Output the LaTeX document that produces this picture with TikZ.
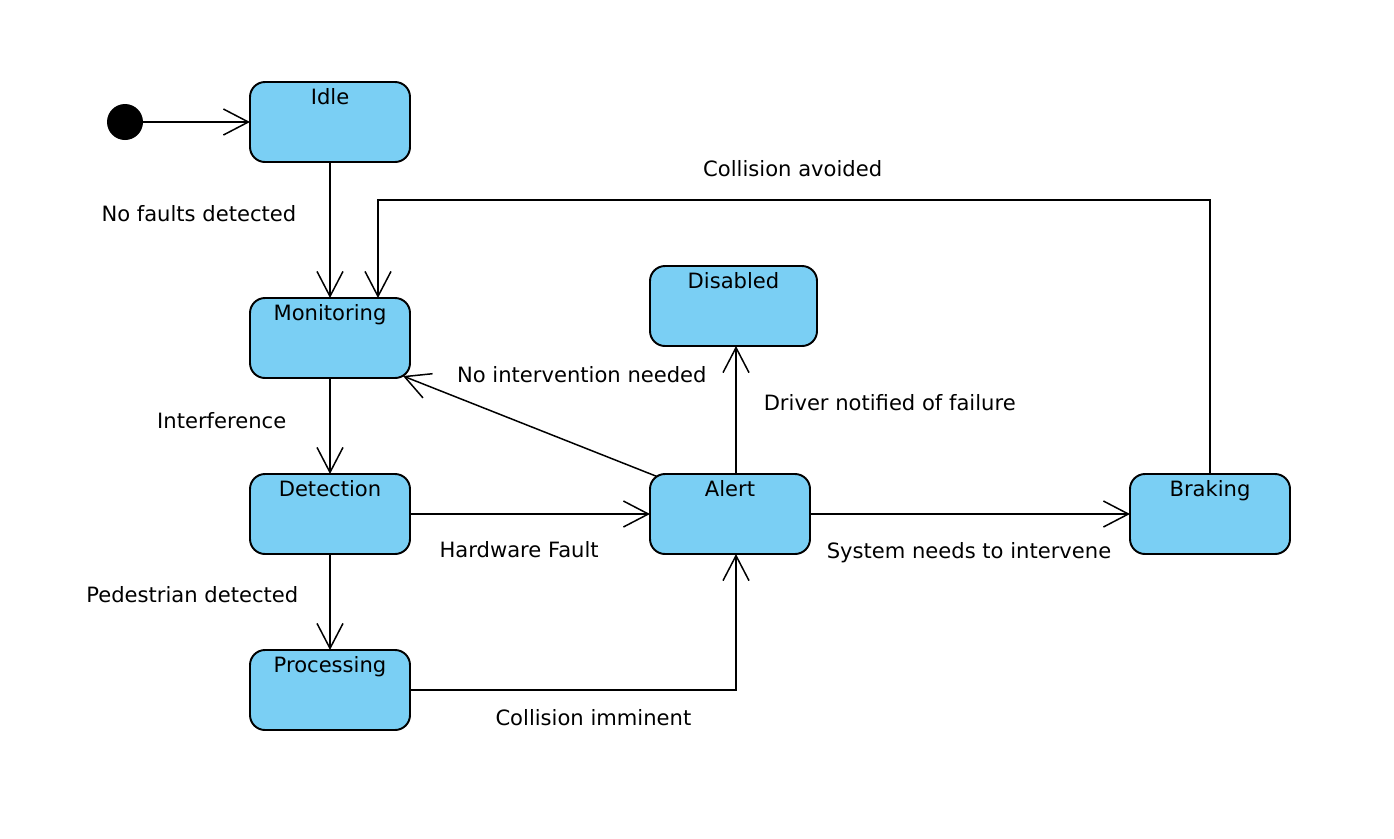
\documentclass[tikz,border=0pt]{standalone}
\usepackage{fontspec}
\setmainfont{DejaVu Sans}
\usetikzlibrary{arrows.meta, positioning, calc}
\definecolor{statefill}{RGB}{122,207,244}

\begin{document}
\begin{tikzpicture}[
      font=\fontsize{12}{14}\selectfont,
      state/.style={rectangle, draw, line width=1.1pt, rounded corners=0.3cm, fill=statefill, minimum width=3.2cm, minimum height=1.6cm, inner xsep=0pt, inner ysep=0pt, outer sep=0pt, text height=0.44cm, text depth=1.16cm},
      init/.style={circle, fill=black, minimum size=0.72cm, inner sep=0pt, outer sep=0pt},
      arrow/.style={-{Straight Barb[length=0.5cm, width=0.52cm]}, line width=0.85pt},
      lbl/.style={inner sep=0pt}
    ]
    \useasboundingbox (0,0) rectangle (27.88,-16.76);

    \node[state] (idle) at (6.6,-2.44) {Idle};
    \node[init, left=2.14cm of idle] (start) {};
    \node[state, below=2.72cm of idle] (monitoring) {Monitoring};
    \node[state, below=1.92cm of monitoring] (detection) {Detection};
    \node[state, below=1.92cm of detection] (processing) {Processing};
    \node[state, right=4.8cm of detection] (alert) {Alert};
    \node[state, right=6.4cm of alert] (braking) {Braking};
    \node[state, minimum width=3.34cm, above=2.56cm of alert, xshift=0.07cm] (disabled) {Disabled};

    \draw[arrow] (start) -- (idle);
    \draw[arrow] (idle) -- node[lbl, pos=0.44, anchor=base east, xshift=-0.66cm] (lfaults) {No faults detected} (monitoring);
    \draw[arrow] (monitoring) -- node[lbl, pos=0.53, anchor=base east, xshift=-0.86cm] (linterf) {Interference} (detection);
    \draw[arrow] (detection) -- node[lbl, pos=0.51, anchor=base east, xshift=-0.62cm] (lpedestrian) {Pedestrian detected} (processing);
    \draw[arrow] (detection) -- node[lbl, pos=0.12, anchor=base west, yshift=-0.86cm] (lfault) {Hardware Fault} (alert);
    \draw[arrow] (alert) -- node[lbl, pos=0.05, anchor=base west, yshift=-0.88cm] (lintervene) {System needs to intervene} (braking);
    \draw[arrow] ([xshift=0.12cm]alert.north) -- node[lbl, pos=0.5, anchor=base west, xshift=0.54cm] (ldriver) {Driver notified of failure} ([xshift=0.12cm]alert.north |- disabled.south);
    \draw[arrow] ($(alert.north west)+(0.14,-0.05)$) -- node[lbl, pos=0.79, anchor=base west, yshift=0.3cm] (lnone) {No intervention needed} ($(monitoring.south east)+(-0.14,0.04)$);
    \draw[arrow] (processing) -| node[lbl, pos=0.13, anchor=base west, yshift=-0.7cm] (limminent) {Collision imminent} ([xshift=0.12cm]alert.south);
    \draw[arrow] (braking.north) -- ++(0,5.48) -| node[lbl, pos=0.305, anchor=base west, yshift=0.48cm] (lavoided) {Collision avoided} ([xshift=0.96cm]monitoring.north);
  \end{tikzpicture}
\end{document}
